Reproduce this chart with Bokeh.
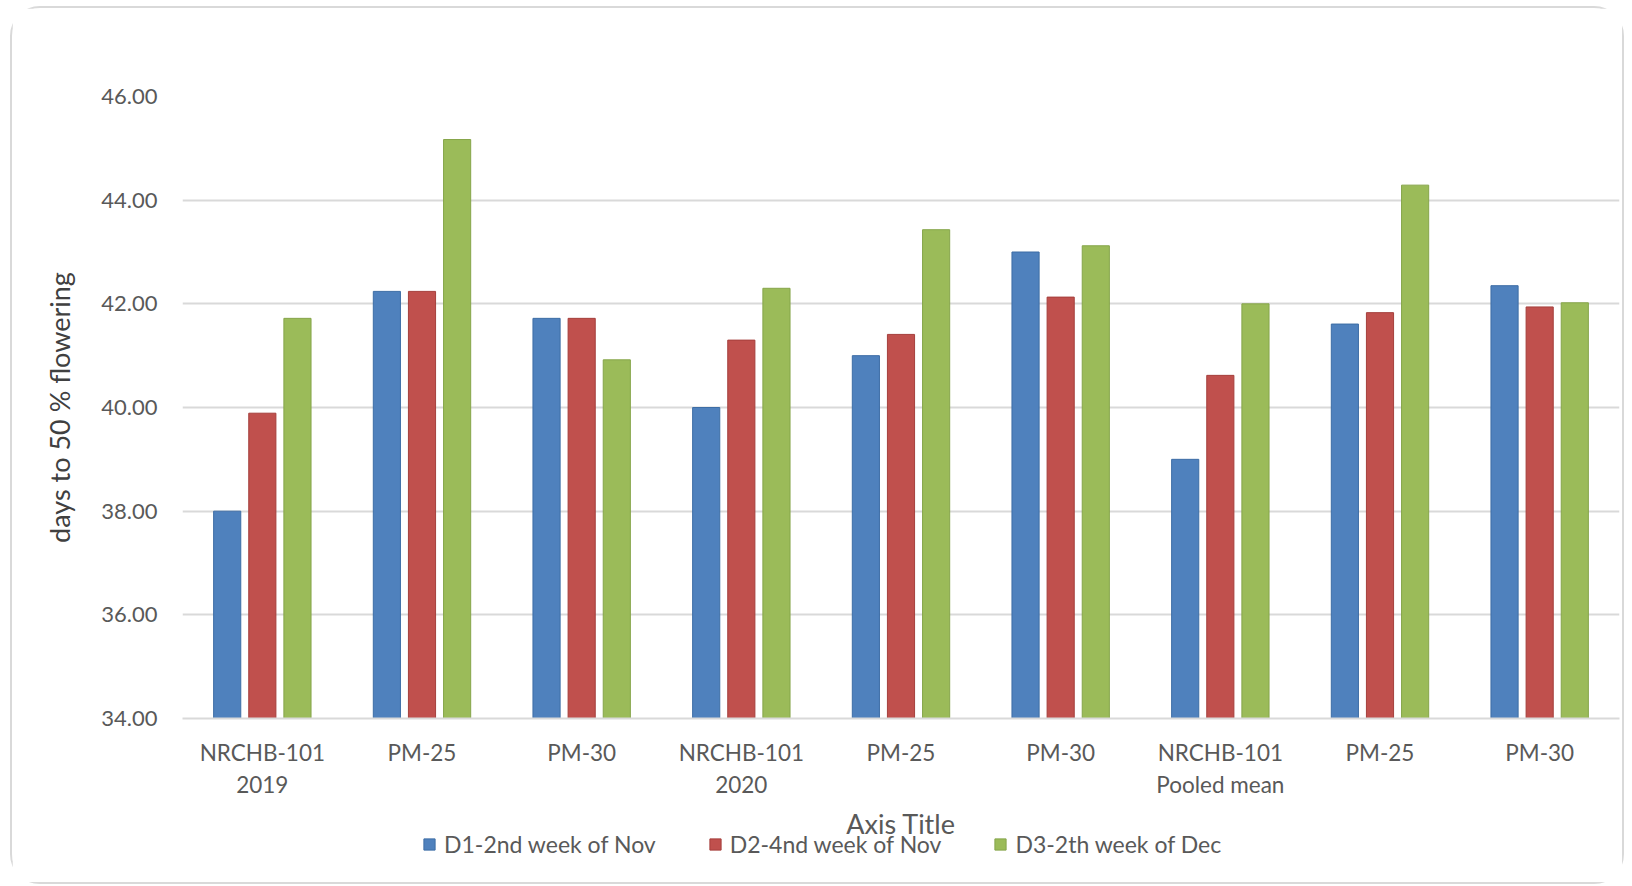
from bokeh.plotting import figure
from bokeh.layouts import column
from bokeh.models import (Legend, LegendItem, ColumnDataSource, NumeralTickFormatter,
                          Range1d, FixedTicker)
from bokeh.embed import file_html
from bokeh.resources import INLINE
import numpy as np

# ---- data ----
groups = ["NRCHB-101\n2019", "PM-25", "PM-30",
          "NRCHB-101\n2020", "PM-25", "PM-30",
          "NRCHB-101\nPooled mean", "PM-25", "PM-30"]
series = ["D1-2nd week of Nov", "D2-4nd week of Nov", "D3-2th week of Dec"]
d1 = [38.00, 42.24, 41.72, 40.00, 41.00, 43.00, 39.00, 41.61, 42.35]
d2 = [39.89, 42.24, 41.72, 41.30, 41.41, 42.13, 40.62, 41.83, 41.94]
d3 = [41.72, 45.17, 40.92, 42.30, 43.43, 43.12, 42.00, 44.29, 42.02]
y_ticks = [34, 36, 38, 40, 42, 44, 46]

colors = ["#4f81bd", "#c0504d", "#9bbb59"]
edges = ["#3d6da5", "#a53f3c", "#86a54a"]
offsets = [-0.22, 0.0, 0.22]
bar_w = 0.17

FONT = "Lato"

p = figure(frame_width=1433, frame_height=618,
           x_range=Range1d(-0.5, 8.5), y_range=Range1d(34, 46),
           output_backend="svg", toolbar_location=None,
           min_border_left=170, min_border_right=7,
           min_border_top=88, min_border_bottom=168)
p.margin = (6, 0, 0, 10)
p.styles = {"border": "2px solid #d9d9d9", "border-radius": "30px"}
p.outline_line_color = None
p.background_fill_color = "white"
p.border_fill_color = "white"

idx = np.arange(len(groups))
for vals, off, c, e in zip([d1, d2, d3], offsets, colors, edges):
    src = ColumnDataSource(dict(x=idx + off, top=vals))
    p.vbar(x="x", top="top", bottom=34, width=bar_w, source=src,
           fill_color=c, line_color=e, line_width=1)

# grid
p.xgrid.visible = False
p.ygrid.ticker = FixedTicker(ticks=y_ticks)
p.ygrid.grid_line_color = "#d9d9d9"
p.ygrid.grid_line_width = 2

# y axis
ya = p.yaxis[0]
ya.ticker = FixedTicker(ticks=y_ticks)
ya.formatter = NumeralTickFormatter(format="0.00")
ya.axis_line_color = None
ya.major_tick_line_color = None
ya.minor_tick_line_color = None
ya.major_label_text_font = FONT
ya.major_label_text_font_size = "22px"
ya.major_label_text_color = "#595959"
ya.major_label_standoff = 19
ya.axis_label = "days to 50 % flowering"
ya.axis_label_text_font = FONT
ya.axis_label_text_font_size = "27px"
ya.axis_label_text_font_style = "normal"
ya.axis_label_text_color = "#404040"
ya.axis_label_standoff = 22

# x axis
xa = p.xaxis[0]
xa.ticker = FixedTicker(ticks=list(range(len(groups))))
xa.major_label_overrides = {i: g for i, g in enumerate(groups)}
xa.axis_line_color = "#d9d9d9"
xa.axis_line_width = 2
xa.major_tick_line_color = None
xa.minor_tick_line_color = None
xa.major_label_text_font = FONT
xa.major_label_text_font_size = "22.5px"
xa.major_label_text_color = "#595959"
xa.major_label_text_line_height = 1.2
xa.major_label_standoff = 14
xa.axis_label = "Axis Title"
xa.axis_label_text_font = FONT
xa.axis_label_text_font_size = "27px"
xa.axis_label_text_font_style = "normal"
xa.axis_label_text_color = "#595959"
xa.axis_label_standoff = 6

# legend strip with the same horizontal structure as the chart, pulled up into the box
leg = figure(frame_width=1433, frame_height=34,
             x_range=Range1d(0, 1), y_range=Range1d(0, 1),
             output_backend="svg", toolbar_location=None,
             x_axis_location=None, y_axis_location=None,
             min_border_left=170, min_border_right=7,
             min_border_top=0, min_border_bottom=0)
leg.outline_line_color = None
leg.grid.visible = False
leg.background_fill_alpha = 0
leg.border_fill_alpha = 0
leg.margin = (-57, 0, 0, 10)

# legend keys (their single datum lies outside the strip's range, so only the key shows)
leg_renderers = []
for c, e in zip(colors, edges):
    r = leg.vbar(x=[-5], top=[-5], bottom=[-6], width=bar_w,
                 fill_color=c, line_color=e, line_width=1)
    leg_renderers.append(r)

items = [LegendItem(label=s, renderers=[r]) for s, r in zip(series, leg_renderers)]
legend = Legend(items=items, orientation="horizontal", location=(242, 3),
                glyph_width=14, glyph_height=14, label_standoff=8, spacing=52,
                padding=0, margin=0, border_line_color=None,
                background_fill_alpha=0,
                label_text_font=FONT, label_text_font_size="23px",
                label_text_color="#595959")
leg.add_layout(legend, "center")

layout = column(p, leg)
open("out.html", "w").write(file_html(layout, INLINE, title="days to 50 % flowering"))
